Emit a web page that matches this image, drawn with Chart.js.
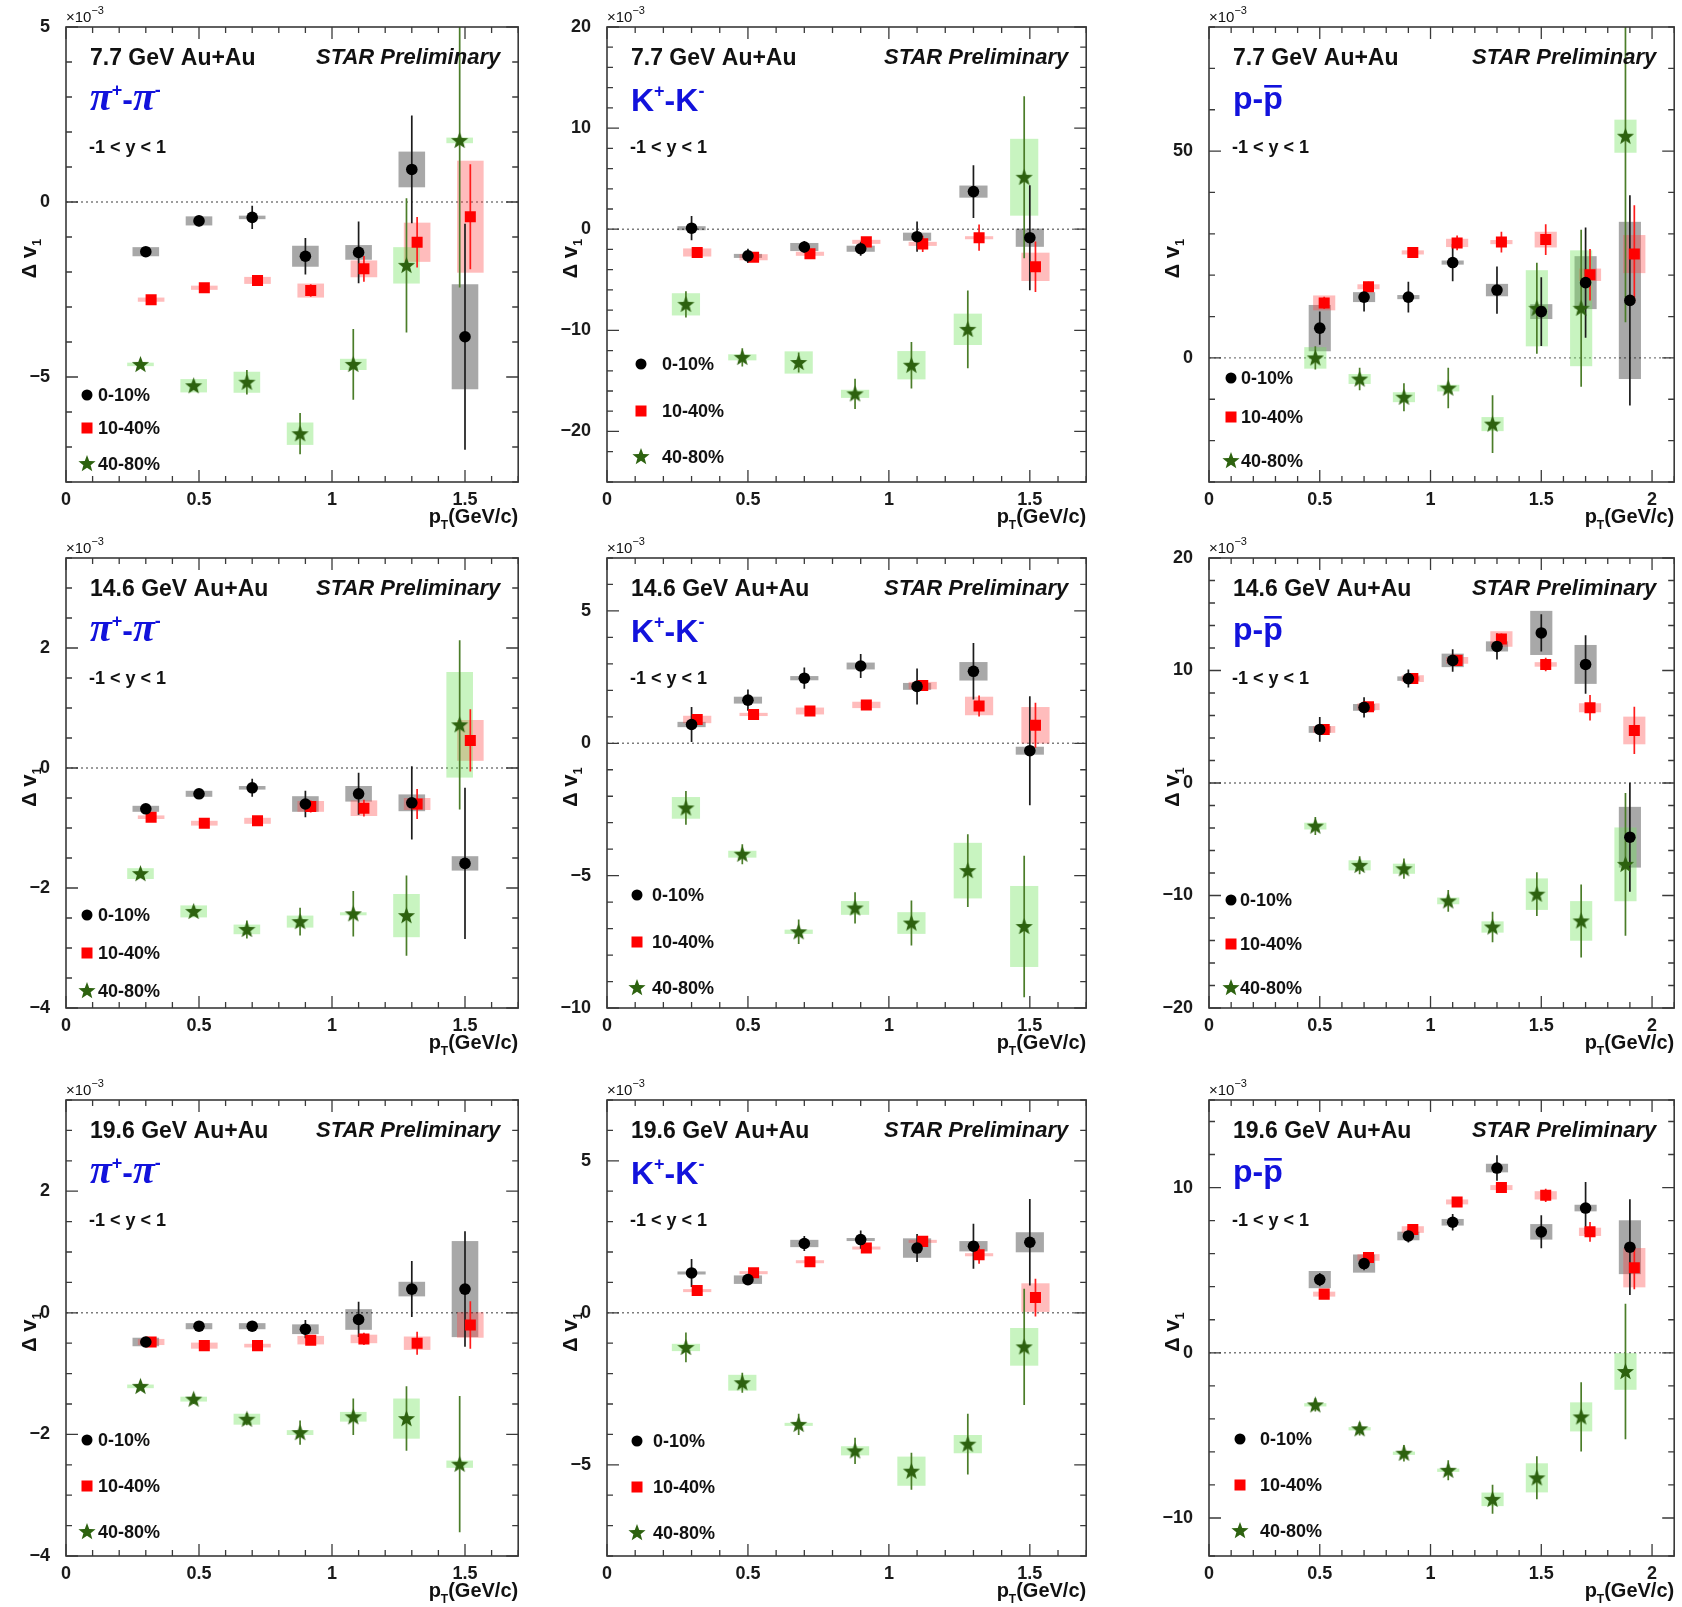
<!DOCTYPE html>
<html>
<head>
<meta charset="utf-8">
<title>STAR Preliminary - Δv1 vs pT</title>
<script src="https://cdn.jsdelivr.net/npm/chart.js@4.4.0/dist/chart.umd.min.js"></script>
<style>
  html, body { margin: 0; padding: 0; background: #fff; }
  body { position: relative; width: 1682px; height: 1607px; overflow: hidden; }
  canvas { position: absolute; }
</style>
</head>
<body>
<script>
// --- DATA ---
// pT bin centres (GeV/c); centralities are shifted a little so they don't overlap
const ptPiK_0_10  = [0.3, 0.5, 0.7, 0.9, 1.1, 1.3, 1.5];
const ptPiK_10_40 = [0.32, 0.52, 0.72, 0.92, 1.12, 1.32, 1.52];
const ptPiK_40_80 = [0.28, 0.48, 0.68, 0.88, 1.08, 1.28, 1.48];
const ptP_0_10    = [0.5, 0.7, 0.9, 1.1, 1.3, 1.5, 1.7, 1.9];
const ptP_10_40   = [0.52, 0.72, 0.92, 1.12, 1.32, 1.52, 1.72, 1.92];
const ptP_40_80   = [0.48, 0.68, 0.88, 1.08, 1.28, 1.48, 1.68, 1.88];

const centralities = ['0-10%', '10-40%', '40-80%'];
const energies = ['7.7', '14.6', '19.6'];

// each point: [delta v1, stat. error, syst. error], units of 1e-3
const pi77_0_10  = [[-1.42, 0.1, 0.13], [-0.54, 0.15, 0.13], [-0.44, 0.33, 0.05], [-1.55, 0.52, 0.3], [-1.44, 0.88, 0.21], [0.93, 1.54, 0.51], [-3.85, 3.23, 1.5]];
const pi77_10_40 = [[-2.79, 0.08, 0.06], [-2.45, 0.1, 0.06], [-2.24, 0.12, 0.1], [-2.53, 0.18, 0.2], [-1.91, 0.37, 0.24], [-1.15, 0.72, 0.56], [-0.42, 1.5, 1.6]];
const pi77_40_80 = [[-4.64, 0.08, 0.05], [-5.25, 0.1, 0.19], [-5.15, 0.35, 0.3], [-6.62, 0.59, 0.32], [-4.64, 1.01, 0.16], [-1.81, 1.92, 0.52], [1.76, 4.2, 0.08]];

const k77_0_10  = [[0.1, 1.2, 0.2], [-2.64, 0.7, 0.2], [-1.76, 0.6, 0.4], [-1.93, 0.7, 0.3], [-0.74, 1.5, 0.4], [3.72, 2.6, 0.6], [-0.84, 5.2, 0.9]];
const k77_10_40 = [[-2.3, 0.3, 0.4], [-2.77, 0.4, 0.3], [-2.43, 0.3, 0.2], [-1.25, 0.4, 0.2], [-1.45, 0.8, 0.2], [-0.84, 1.3, 0.15], [-3.72, 2.5, 1.4]];
const k77_40_80 = [[-7.43, 1.3, 1.1], [-12.67, 0.9, 0.3], [-13.18, 1.0, 1.1], [-16.28, 1.5, 0.4], [-13.45, 2.3, 1.4], [-9.9, 3.85, 1.55], [5.14, 8.0, 3.8]];

const p77_0_10  = [[7.2, 4, 5.6], [14.7, 3.5, 1.2], [14.7, 3.7, 0.5], [23.05, 4.5, 0.5], [16.4, 5.7, 1.5], [11.2, 8.3, 1.8], [18.2, 13.3, 6.4], [13.9, 25.4, 19]];
const p77_10_40 = [[13.3, 1.5, 1.8], [17.2, 1.2, 0.6], [25.5, 1.0, 0.5], [27.8, 1.8, 1.0], [28.0, 2.5, 0.5], [28.6, 3.7, 1.9], [20.1, 6.2, 1.5], [25.1, 11.8, 4.6]];
const p77_40_80 = [[0, 2.8, 2.6], [-5.1, 2.7, 1.2], [-9.5, 3.4, 1.2], [-7.3, 4.9, 0.8], [-16, 7, 1.7], [12.0, 11, 9.2], [12.0, 19, 14], [53.6, 45, 4]];

const pi146_0_10  = [[-0.68, 0.05, 0.05], [-0.43, 0.05, 0.05], [-0.33, 0.15, 0.03], [-0.6, 0.22, 0.13], [-0.43, 0.35, 0.13], [-0.58, 0.61, 0.14], [-1.59, 1.26, 0.12]];
const pi146_10_40 = [[-0.82, 0.04, 0.03], [-0.92, 0.05, 0.04], [-0.88, 0.06, 0.05], [-0.64, 0.1, 0.09], [-0.67, 0.14, 0.13], [-0.6, 0.25, 0.1], [0.46, 0.52, 0.34]];
const pi146_40_80 = [[-1.76, 0.06, 0.09], [-2.39, 0.08, 0.1], [-2.69, 0.15, 0.08], [-2.56, 0.23, 0.1], [-2.43, 0.38, 0.02], [-2.46, 0.67, 0.36], [0.72, 1.41, 0.88]];

const k146_0_10  = [[0.71, 0.66, 0.1], [1.63, 0.4, 0.13], [2.46, 0.4, 0.08], [2.92, 0.45, 0.13], [2.15, 0.68, 0.13], [2.72, 1.07, 0.35], [-0.28, 2.06, 0.15]];
const k146_10_40 = [[0.9, 0.2, 0.14], [1.09, 0.15, 0.06], [1.22, 0.15, 0.13], [1.45, 0.15, 0.12], [2.18, 0.2, 0.14], [1.41, 0.4, 0.35], [0.68, 0.85, 0.69]];
const k146_40_80 = [[-2.44, 0.64, 0.41], [-4.19, 0.38, 0.13], [-7.12, 0.46, 0.08], [-6.22, 0.59, 0.26], [-6.79, 0.85, 0.41], [-4.81, 1.37, 1.05], [-6.92, 2.67, 1.53]];

const p146_0_10  = [[4.76, 1.1, 0.3], [6.72, 0.9, 0.3], [9.28, 0.8, 0.2], [10.9, 1.0, 0.6], [12.14, 1.16, 0.45], [13.34, 1.65, 1.96], [10.54, 2.6, 1.73], [-4.82, 4.85, 2.7]];
const p146_10_40 = [[4.76, 0.4, 0.3], [6.78, 0.4, 0.3], [9.28, 0.4, 0.3], [10.9, 0.4, 0.3], [12.8, 0.5, 0.69], [10.54, 0.6, 0.2], [6.69, 1.13, 0.4], [4.67, 2.1, 1.23]];
const p146_40_80 = [[-3.83, 0.8, 0.3], [-7.32, 0.8, 0.45], [-7.62, 0.9, 0.45], [-10.48, 0.96, 0.3], [-12.8, 1.36, 0.5], [-9.88, 1.94, 1.4], [-12.26, 3.24, 1.76], [-7.23, 6.34, 3.28]];

const pi196_0_10  = [[-0.48, 0.04, 0.07], [-0.22, 0.05, 0.05], [-0.22, 0.06, 0.05], [-0.27, 0.15, 0.08], [-0.11, 0.29, 0.17], [0.39, 0.46, 0.12], [0.39, 0.95, 0.79]];
const pi196_10_40 = [[-0.48, 0.04, 0.05], [-0.54, 0.05, 0.05], [-0.54, 0.06, 0.03], [-0.45, 0.08, 0.07], [-0.43, 0.1, 0.07], [-0.5, 0.19, 0.11], [-0.2, 0.39, 0.21]];
const pi196_40_80 = [[-1.21, 0.05, 0.03], [-1.42, 0.08, 0.04], [-1.75, 0.1, 0.09], [-1.97, 0.2, 0.04], [-1.71, 0.3, 0.08], [-1.74, 0.53, 0.33], [-2.49, 1.12, 0.06]];

const k196_0_10  = [[1.31, 0.46, 0.05], [1.09, 0.15, 0.14], [2.28, 0.25, 0.12], [2.41, 0.3, 0.05], [2.13, 0.46, 0.32], [2.19, 0.74, 0.17], [2.32, 1.42, 0.33]];
const k196_10_40 = [[0.73, 0.1, 0.03], [1.32, 0.1, 0.05], [1.68, 0.1, 0.03], [2.13, 0.1, 0.05], [2.35, 0.15, 0.05], [1.91, 0.3, 0.05], [0.5, 0.62, 0.47]];
const k196_40_80 = [[-1.14, 0.49, 0.12], [-2.3, 0.33, 0.26], [-3.67, 0.35, 0.05], [-4.54, 0.43, 0.15], [-5.21, 0.61, 0.48], [-4.32, 1.0, 0.3], [-1.12, 1.91, 0.62]];

const p196_0_10  = [[4.43, 0.4, 0.52], [5.4, 0.4, 0.55], [7.07, 0.4, 0.26], [7.9, 0.5, 0.2], [11.18, 0.77, 0.26], [7.32, 1.0, 0.47], [8.76, 1.57, 0.2], [6.39, 2.9, 1.63]];
const p196_10_40 = [[3.55, 0.2, 0.15], [5.77, 0.3, 0.2], [7.46, 0.3, 0.2], [9.13, 0.3, 0.15], [10.0, 0.3, 0.15], [9.53, 0.4, 0.25], [7.32, 0.6, 0.25], [5.15, 1.3, 1.19]];
const p196_40_80 = [[-3.15, 0.4, 0.1], [-4.6, 0.4, 0.1], [-6.08, 0.5, 0.1], [-7.11, 0.6, 0.1], [-8.87, 0.88, 0.41], [-7.57, 1.3, 0.88], [-3.88, 2.1, 0.88], [-1.13, 4.1, 1.11]];

// --- LAYOUT ---
const FONT = '"Liberation Sans", Arial, Helvetica, sans-serif';
const BLUE = '#1212dc';
const COL_X = [[66, 522], [607, 1090], [1209, 1678]];   // frame left/right
const ROW_Y = [[27, 482], [558, 1008], [1100, 1556]];   // frame top/bottom

const ptPiK = [ptPiK_0_10, ptPiK_10_40, ptPiK_40_80];
const ptP = [ptP_0_10, ptP_10_40, ptP_40_80];

const SERIES = [
    { color: '#000000', bar: '#1c1c1c', box: 'rgba(0, 0, 0, 0.34)' },
    { color: '#ff0000', bar: '#ff1c1c', box: 'rgba(255, 60, 60, 0.34)' },
    { color: '#2d620f', bar: '#4b7d29', box: 'rgba(110, 225, 90, 0.38)' }
];

// legend: [marker x, text x, row y's] relative to the frame
const panels = [
    { col: 0, row: 0, energy: energies[0], species: 'pi', pt: ptPiK, xMax: 1.7, yRange: [-8, 5], yMajor: 5, yMinor: 1,
      series: [pi77_0_10, pi77_10_40, pi77_40_80], legend: [21, 32, [368, 401, 437]] },
    { col: 1, row: 0, energy: energies[0], species: 'K', pt: ptPiK, xMax: 1.7, yRange: [-25, 20], yMajor: 10, yMinor: 2,
      series: [k77_0_10, k77_10_40, k77_40_80], legend: [34, 55, [337, 384, 430]] },
    { col: 2, row: 0, energy: energies[0], species: 'p', pt: ptP, xMax: 2.1, yRange: [-30, 80], yMajor: 50, yMinor: 10,
      series: [p77_0_10, p77_10_40, p77_40_80], legend: [22, 32, [351, 390, 434]] },
    { col: 0, row: 1, energy: energies[1], species: 'pi', pt: ptPiK, xMax: 1.7, yRange: [-4, 3.5], yMajor: 2, yMinor: 0.5,
      series: [pi146_0_10, pi146_10_40, pi146_40_80], legend: [21, 32, [357, 395, 433]] },
    { col: 1, row: 1, energy: energies[1], species: 'K', pt: ptPiK, xMax: 1.7, yRange: [-10, 7], yMajor: 5, yMinor: 1,
      series: [k146_0_10, k146_10_40, k146_40_80], legend: [30, 45, [337, 384, 430]] },
    { col: 2, row: 1, energy: energies[1], species: 'p', pt: ptP, xMax: 2.1, yRange: [-20, 20], yMajor: 10, yMinor: 2,
      series: [p146_0_10, p146_10_40, p146_40_80], legend: [22, 31, [342, 386, 430]] },
    { col: 0, row: 2, energy: energies[2], species: 'pi', pt: ptPiK, xMax: 1.7, yRange: [-4, 3.5], yMajor: 2, yMinor: 0.5,
      series: [pi196_0_10, pi196_10_40, pi196_40_80], legend: [21, 32, [340, 386, 432]] },
    { col: 1, row: 2, energy: energies[2], species: 'K', pt: ptPiK, xMax: 1.7, yRange: [-8, 7], yMajor: 5, yMinor: 1,
      series: [k196_0_10, k196_10_40, k196_40_80], legend: [30, 46, [341, 387, 433]] },
    { col: 2, row: 2, energy: energies[2], species: 'p', pt: ptP, xMax: 2.1, yRange: [-12.3, 15.3], yMajor: 10, yMinor: 2,
      series: [p196_0_10, p196_10_40, p196_40_80], legend: [31, 51, [339, 385, 431]] }
];

// --- HELPERS ---
function isMultiple(v, step) {
    const r = v / step;
    return Math.abs(r - Math.round(r)) < 1e-6;
}

function fmtTick(v) {
    return String(Math.round(v * 1000) / 1000).replace('-', '\u2212');
}

function drawStar(ctx, cx, cy, rOut, rIn) {
    ctx.beginPath();
    for (let i = 0; i < 10; i++) {
        const r = i % 2 ? rIn : rOut;
        const a = -Math.PI / 2 + i * Math.PI / 5;
        const px = cx + r * Math.cos(a), py = cy + r * Math.sin(a);
        if (i) ctx.lineTo(px, py); else ctx.moveTo(px, py);
    }
    ctx.closePath();
    ctx.fill();
}

// text with sub/superscripts: parts = [{t, font, dy}]
function richWidth(ctx, parts) {
    let w = 0;
    parts.forEach(p => { ctx.font = p.font; w += ctx.measureText(p.t).width; });
    return w;
}
function drawRich(ctx, parts, x, y) {
    parts.forEach(p => {
        ctx.font = p.font;
        const w = ctx.measureText(p.t).width;
        ctx.fillText(p.t, x, y + (p.dy || 0));
        if (p.over) {
            ctx.fillRect(x + 1, y + p.over, w - 2, 2.6);
        }
        x += w;
    });
    return x;
}

function speciesParts(sp) {
    const big = `bold 32px ${FONT}`, sup = `bold 18px ${FONT}`;
    if (sp === 'pi') {
        const pf = 'italic bold 40px "Liberation Serif", "DejaVu Serif", serif';
        return [{ t: 'π', font: pf }, { t: '+', font: sup, dy: -14 }, { t: '-', font: big },
                { t: 'π', font: pf }, { t: '-', font: sup, dy: -14 }];
    }
    if (sp === 'K') {
        return [{ t: 'K', font: big }, { t: '+', font: sup, dy: -14 }, { t: '-', font: big },
                { t: 'K', font: big }, { t: '-', font: sup, dy: -14 }];
    }
    return [{ t: 'p', font: big }, { t: '-', font: big }, { t: 'p', font: big, over: -24 }];
}

// green star marker used as point style
const starImg = document.createElement('canvas');
starImg.width = 19; starImg.height = 19;
(function () {
    const c = starImg.getContext('2d');
    c.fillStyle = SERIES[2].color;
    drawStar(c, 9.5, 10, 9, 3.8);
})();

// --- PLUGIN: syst. boxes, stat. bars, frame, texts ---
function makeDecor(p) {
    return {
        id: 'decor',
        beforeDatasetsDraw(chart) {
            const { ctx, chartArea: a, scales: { x, y } } = chart;
            ctx.save();
            ctx.beginPath();
            ctx.rect(a.left, a.top, a.right - a.left, a.bottom - a.top);
            ctx.clip();

            // zero line
            const y0 = y.getPixelForValue(0);
            ctx.strokeStyle = '#7c7c7c';
            ctx.lineWidth = 1.4;
            ctx.setLineDash([2, 3]);
            ctx.beginPath();
            ctx.moveTo(a.left, y0);
            ctx.lineTo(a.right, y0);
            ctx.stroke();
            ctx.setLineDash([]);

            // systematic boxes
            p.series.forEach((s, k) => {
                ctx.fillStyle = SERIES[k].box;
                s.forEach((d, j) => {
                    const xc = p.pt[k][j];
                    const xl = x.getPixelForValue(xc - 0.05), xr = x.getPixelForValue(xc + 0.05);
                    let yt = y.getPixelForValue(d[0] + d[2]), yb = y.getPixelForValue(d[0] - d[2]);
                    if (yb - yt < 3) { const m = (yt + yb) / 2; yt = m - 1.5; yb = m + 1.5; }
                    ctx.fillRect(xl, yt, xr - xl, yb - yt);
                });
            });

            // statistical error bars
            p.series.forEach((s, k) => {
                ctx.strokeStyle = SERIES[k].bar;
                ctx.lineWidth = 1.7;
                s.forEach((d, j) => {
                    const px = x.getPixelForValue(p.pt[k][j]);
                    ctx.beginPath();
                    ctx.moveTo(px, y.getPixelForValue(d[0] + d[1]));
                    ctx.lineTo(px, y.getPixelForValue(d[0] - d[1]));
                    ctx.stroke();
                });
            });
            ctx.restore();
        },
        afterDraw(chart) {
            const { ctx, chartArea: a, scales: { x, y } } = chart;
            ctx.save();

            // frame + inner ticks on all four sides
            ctx.strokeStyle = '#3a3a3a';
            ctx.lineWidth = 1.6;
            ctx.strokeRect(a.left, a.top, a.right - a.left, a.bottom - a.top);
            ctx.lineWidth = 1.3;
            ctx.beginPath();
            x.ticks.forEach(t => {
                const px = x.getPixelForValue(t.value);
                const len = isMultiple(t.value, 0.5) ? 12 : 6;
                ctx.moveTo(px, a.bottom); ctx.lineTo(px, a.bottom - len);
                ctx.moveTo(px, a.top); ctx.lineTo(px, a.top + len);
            });
            y.ticks.forEach(t => {
                const py = y.getPixelForValue(t.value);
                const len = isMultiple(t.value, p.yMajor) ? 12 : 6;
                ctx.moveTo(a.left, py); ctx.lineTo(a.left + len, py);
                ctx.moveTo(a.right, py); ctx.lineTo(a.right - len, py);
            });
            ctx.stroke();

            ctx.textAlign = 'left';
            ctx.textBaseline = 'alphabetic';
            ctx.fillStyle = '#111';

            // x10^-3
            drawRich(ctx, [{ t: '×10', font: `15px ${FONT}` }, { t: '\u22123', font: `11px ${FONT}`, dy: -8 }], a.left, a.top - 5);

            // header texts
            ctx.font = `bold 23px ${FONT}`;
            ctx.fillText(`${p.energy} GeV Au+Au`, a.left + 24, a.top + 38);
            ctx.font = `italic bold 22px ${FONT}`;
            ctx.textAlign = 'right';
            ctx.fillText('STAR Preliminary', a.right - 18, a.top + 37);
            ctx.textAlign = 'left';

            ctx.fillStyle = BLUE;
            const base = p.species === 'pi' ? 83 : (p.species === 'K' ? 84 : 82);
            drawRich(ctx, speciesParts(p.species), a.left + 24, a.top + base);

            ctx.fillStyle = '#111';
            ctx.font = `bold 18px ${FONT}`;
            ctx.fillText('-1 < y < 1', a.left + 23, a.top + 126);

            // legend
            const [mx, tx, rows] = p.legend;
            rows.forEach((ry, k) => {
                const cx = a.left + mx, cy = a.top + ry;
                ctx.fillStyle = SERIES[k].color;
                if (k === 0) { ctx.beginPath(); ctx.arc(cx, cy, 5.5, 0, Math.PI * 2); ctx.fill(); }
                else if (k === 1) { ctx.fillRect(cx - 5.5, cy - 5.5, 11, 11); }
                else { drawStar(ctx, cx, cy, 9, 3.8); }
                ctx.fillStyle = '#111';
                ctx.font = `bold 18px ${FONT}`;
                ctx.textBaseline = 'middle';
                ctx.fillText(centralities[k], a.left + tx, cy + 1);
                ctx.textBaseline = 'alphabetic';
            });

            // axis titles
            ctx.fillStyle = '#111';
            const xt = [{ t: 'p', font: `bold 20px ${FONT}` }, { t: 'T', font: `bold 12px ${FONT}`, dy: 6 },
                        { t: '(GeV/c)', font: `bold 20px ${FONT}` }];
            drawRich(ctx, xt, a.right - richWidth(ctx, xt), a.bottom + 41);

            const yt = [{ t: 'Δ ', font: `bold 20px ${FONT}` }, { t: 'v', font: `bold 22px ${FONT}` },
                        { t: '1', font: `bold 13px ${FONT}`, dy: 5 }];
            ctx.translate(a.left - 38, (a.top + a.bottom) / 2 + 4);
            ctx.rotate(-Math.PI / 2);
            drawRich(ctx, yt, -richWidth(ctx, yt) / 2, 8);
            ctx.restore();
        }
    };
}

// --- CHARTS ---
panels.forEach(p => {
    const [fl, fr] = COL_X[p.col];
    const [ft, fb] = ROW_Y[p.row];
    const W = fr - fl + 62 + 4, H = fb - ft + 26 + 50;
    const cv = document.createElement('canvas');
    cv.width = W; cv.height = H;
    cv.style.left = (fl - 62) + 'px';
    cv.style.top = (ft - 26) + 'px';
    cv.style.width = W + 'px';
    cv.style.height = H + 'px';
    document.body.appendChild(cv);

    const tickFont = { family: FONT, size: 18, weight: 'bold' };

    new Chart(cv, {
        type: 'scatter',
        data: {
            datasets: p.series.map((s, k) => ({
                label: centralities[k],
                data: s.map((d, j) => ({ x: p.pt[k][j], y: d[0] })),
                pointStyle: k === 0 ? 'circle' : (k === 1 ? 'rect' : starImg),
                pointRadius: k === 1 ? 7.8 : 5.8,
                pointHoverRadius: k === 1 ? 7.8 : 5.8,
                backgroundColor: SERIES[k].color,
                borderColor: SERIES[k].color,
                borderWidth: 0,
                showLine: false
            }))
        },
        options: {
            responsive: false,
            animation: false,
            devicePixelRatio: 1,
            layout: { padding: { left: 0, top: 26, right: 4, bottom: 10 } },
            plugins: { legend: { display: false }, tooltip: { enabled: false } },
            scales: {
                x: {
                    type: 'linear', min: 0, max: p.xMax,
                    afterFit: s => { s.height = 40; },
                    grid: { display: false }, border: { display: false },
                    ticks: {
                        stepSize: 0.1, autoSkip: false, maxRotation: 0, padding: -1,
                        color: '#1a1a1a', font: tickFont,
                        callback: v => isMultiple(v, 0.5) ? fmtTick(v) : ''
                    }
                },
                y: {
                    type: 'linear', min: p.yRange[0], max: p.yRange[1],
                    afterFit: s => { s.width = 62; },
                    grid: { display: false }, border: { display: false },
                    ticks: {
                        stepSize: p.yMinor, autoSkip: false, padding: 8,
                        color: '#1a1a1a', font: tickFont,
                        callback: v => isMultiple(v, p.yMajor) ? fmtTick(v) : ''
                    }
                }
            }
        },
        plugins: [makeDecor(p)]
    });
});
</script>
</body>
</html>
